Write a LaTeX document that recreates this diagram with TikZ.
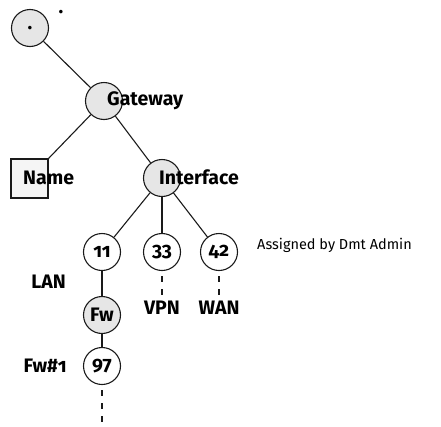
\documentclass[tikz,border=0pt]{standalone}
\usepackage{fontspec}
\setmainfont{Fira Sans}[Numbers=OldStyle]
\usetikzlibrary{positioning}
\definecolor{TreeInk}{HTML}{1A1A1A}
\definecolor{TreeFill}{HTML}{E6E6E6}
\definecolor{TreeBox}{HTML}{F5F5F5}
\tikzset{
  tree/circ/.style={
    circle, draw=TreeInk, line width=1.1pt, fill=white,
    minimum size=37pt, inner sep=0pt
  },
  tree/shaded/.style={tree/circ, fill=TreeFill},
  tree/box/.style={
    draw=TreeInk, line width=1.6pt, fill=TreeBox,
    minimum width=37pt, minimum height=39pt, inner sep=0pt
  },
  tree/label/.style={font=\fontsize{19.5}{22}\selectfont\bfseries, inner sep=0pt},
  tree/note/.style={font=\fontsize{14.5}{17}\selectfont, inner sep=0pt},
  tree/edge/.style={draw=TreeInk, line width=1.1pt},
  tree/stub/.style={draw=TreeInk, line width=1.8pt, dash pattern=on 6pt off 7pt, dash phase=8pt}
}
\begin{document}
\begin{tikzpicture}[x=1pt,y=-1pt]
  \useasboundingbox (0,0) rectangle (441,426);
  % shapes
  \node[tree/shaded] (root) at (30,28) {};
  \node[tree/shaded] (gw) at (104,101) {};
  \node[tree/box] (name) at (29.5,178.5) {};
  \node[tree/shaded] (iface) at (162,178) {};
  \node[tree/circ] (n11) at (102,252) {};
  \node[tree/circ] (n33) at (162,252) {};
  \node[tree/circ] (n42) at (219,252) {};
  \node[tree/shaded] (fw) at (102,315) {};
  \node[tree/circ] (n97) at (102,366) {};
  % edges
  \draw[tree/edge] (root) -- (gw);
  \draw[tree/edge] (gw) -- (name.north east);
  \draw[tree/edge] (gw) -- (iface);
  \foreach \kid in {n11,n33,n42}
    \draw[tree/edge] (iface) -- (\kid);
  \draw[tree/edge] (n11) -- (fw);
  \draw[tree/edge] (fw) -- (n97);
  \coordinate (vpnend) at (162,296);
  \coordinate (wanend) at (219,296);
  \coordinate (tail) at (102,426);
  \draw[tree/stub] (n33) -- (vpnend);
  \draw[tree/stub] (n42) -- (wanend);
  \draw[tree/stub] (n97) -- (tail);
  % texts
  \node[tree/label] (rootdot) at (root) {.};
  \node[tree/label] (topdot) at (61,12) {.};
  \node[tree/label,anchor=west] (gwlab) at (107,101) {Gateway};
  \node[tree/label,anchor=west] (namelab) at (23,178) {Name};
  \node[tree/label,anchor=west] (ifacelab) at (159,177) {Interface};
  \node[tree/label] (lab11) at (n11) {11};
  \node[tree/label] (lab33) at (n33) {33};
  \node[tree/label] (lab42) at (n42) {42};
  \node[tree/label] (labfw) at (fw) {Fw};
  \node[tree/label] (lab97) at (n97) {97};
  \node[tree/note,anchor=west] (assigned) at (257,245) {Assigned by Dmt Admin};
  \node[tree/label,anchor=east] (lan) at (66,282) {LAN};
  \node[tree/label] (vpn) at (162,308) {VPN};
  \node[tree/label] (wan) at (219,308) {WAN};
  \node[tree/label,anchor=east] (fwone) at (67,366) {Fw\#1};
\end{tikzpicture}
\end{document}
